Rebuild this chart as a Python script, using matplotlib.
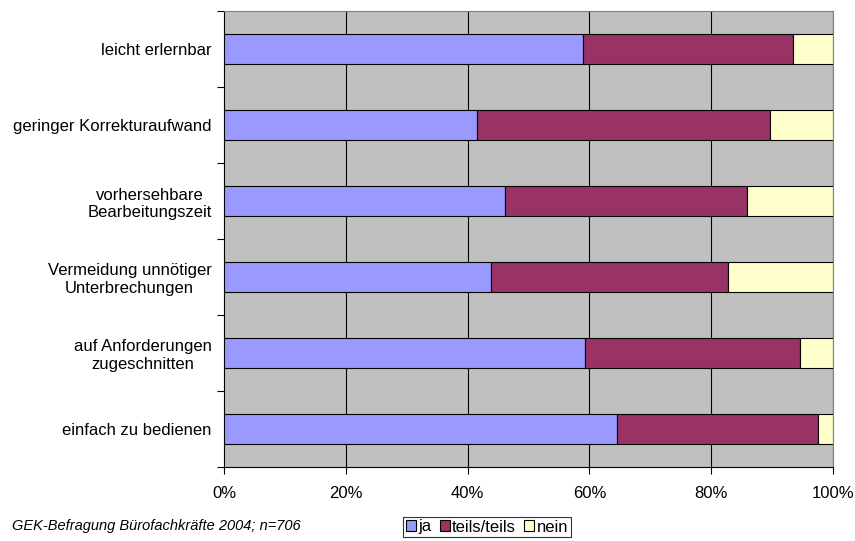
import numpy as np
import matplotlib.pyplot as plt
from matplotlib.patches import Patch

plt.rcParams['font.family'] = ['Liberation Sans', 'DejaVu Sans']

# ---------- Data (shares in %) ----------
categories = ['leicht erlernbar',
              'geringer Korrekturaufwand',
              'vorhersehbare\nBearbeitungszeit',
              'Vermeidung unnötiger\nUnterbrechungen',
              'auf Anforderungen\nzugeschnitten',
              'einfach zu bedienen']
ja = [59.0, 41.6, 46.2, 43.9, 59.3, 64.5]
teils = [34.4, 48.0, 39.7, 38.8, 35.3, 33.1]
nein = [6.6, 10.4, 14.1, 17.3, 5.4, 2.4]
series_names = ['ja', 'teils/teils', 'nein']
colors = ['#9999FF', '#993366', '#FFFFCC']
x_ticks = [0, 20, 40, 60, 80, 100]
x_ticklabels = ['0%', '20%', '40%', '60%', '80%', '100%']
source_note = 'GEK-Befragung Bürofachkräfte 2004; n=706'

# ---------- Figure ----------
fig = plt.figure(figsize=(8.55, 5.41), dpi=100)
ax = fig.add_axes([224 / 855, 1 - 467 / 541, (833 - 224) / 855, (467 - 11) / 541])
ax.set_facecolor('#C0C0C0')

n = len(categories)
y = np.arange(n)[::-1]  # first category on top
left = np.zeros(n)
for vals, col in zip([ja, teils, nein], colors):
    ax.barh(y, vals, left=left, height=0.4, color=col,
            edgecolor='black', linewidth=0.8, zorder=3)
    left += np.array(vals)

ax.set_xlim(0, 100)
ax.set_ylim(-0.5, n - 0.5)

# vertical gridlines
for xv in x_ticks[1:]:
    ax.axvline(xv, color='black', linewidth=0.8, zorder=1)

ax.set_xticks(x_ticks)
ax.set_xticklabels(x_ticklabels, fontsize=12)
ax.tick_params(axis='x', length=5, width=0.8, pad=9, direction='out')

# category labels centred on bars, ticks between categories
ax.set_yticks(y)
ax.set_yticklabels(categories, fontsize=12, ha='right', multialignment='center')
ax.tick_params(axis='y', length=0, pad=9)
ax.set_yticks(np.arange(-0.5, n, 1.0), minor=True)
ax.tick_params(axis='y', which='minor', length=5, width=0.8, direction='out')

for side in ['top', 'right']:
    ax.spines[side].set_color('#808080')
    ax.spines[side].set_linewidth(0.8)
for side in ['left', 'bottom']:
    ax.spines[side].set_color('black')
    ax.spines[side].set_linewidth(0.8)

# ---------- Legend & note ----------
handles = [Patch(facecolor=c, edgecolor='black', linewidth=0.8) for c in colors]
leg = fig.legend(handles, series_names, loc='center', bbox_to_anchor=(487 / 855, 1 - 527 / 541),
                 ncol=3, fontsize=12, frameon=True, fancybox=False,
                 handlelength=0.6, handleheight=0.6, handletextpad=0.15,
                 columnspacing=0.5, borderpad=0.15, borderaxespad=0)
leg.get_frame().set_edgecolor('black')
leg.get_frame().set_linewidth(0.8)

fig.text(12 / 855, 1 - 526 / 541, source_note, fontsize=10.5, style='italic',
         va='center', ha='left')

fig.savefig('out.png', dpi=100)
